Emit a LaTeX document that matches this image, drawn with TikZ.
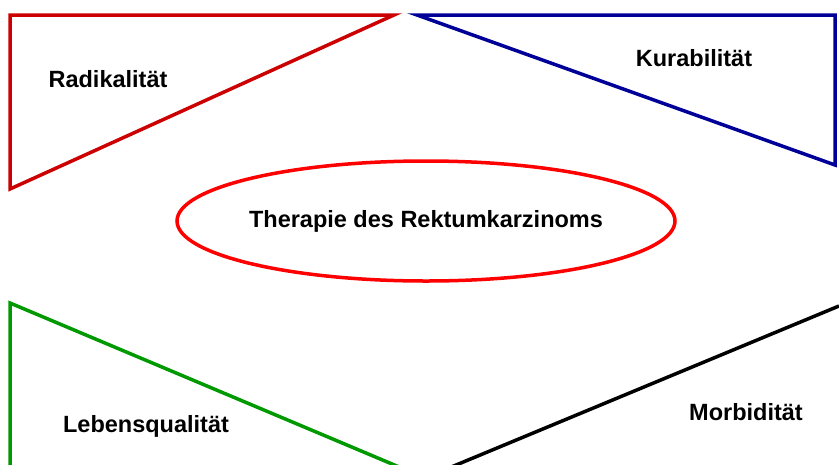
\documentclass[tikz,border=0pt]{standalone}
\usepackage{fontspec}
\setmainfont{Liberation Sans}
\usepackage{xcolor}
\usepackage{tikz}

\definecolor{radred}{RGB}{204,0,0}
\definecolor{kurblue}{RGB}{0,0,153}
\definecolor{lebgreen}{RGB}{0,153,0}

\begin{document}
\begin{tikzpicture}[
    x=1pt, y=-1pt,
    wedge/.style={line width=3.5pt, line join=miter},
    label/.style={font=\fontsize{23.5}{28}\selectfont\bfseries, inner sep=0pt}
]
    \useasboundingbox (0,0) rectangle (839,464);
    \clip (0,0) rectangle (839,464);

    % Upper wedges
    \draw[wedge, draw=radred] (10,15) -- (394,15) -- (10,189) -- cycle;
    \draw[wedge, draw=kurblue] (417,15) -- (835,15) -- (835,165) -- cycle;

    % Lower wedges (cut at the bottom edge)
    \draw[wedge, draw=lebgreen] (10,303) -- (430,480) -- (10,480) -- cycle;
    \draw[wedge, draw=black] (839,306) -- (420,480) -- (850,480);

    % Central ellipse
    \node[label] (THER) at (426,221) {Therapie des Rektumkarzinoms};
    \draw[draw=red, line width=3.5pt] (THER.center) ellipse [x radius=249pt, y radius=60pt];

    % Labels
    \node[label] (RAD) at (108,79) {Radikalität};
    \node[label] (KUR) at (694,58) {Kurabilität};
    \node[label] (LEB) at (146,426) {Lebensqualität};
    \node[label] (MOR) at (746,412) {Morbidität};
\end{tikzpicture}
\end{document}
